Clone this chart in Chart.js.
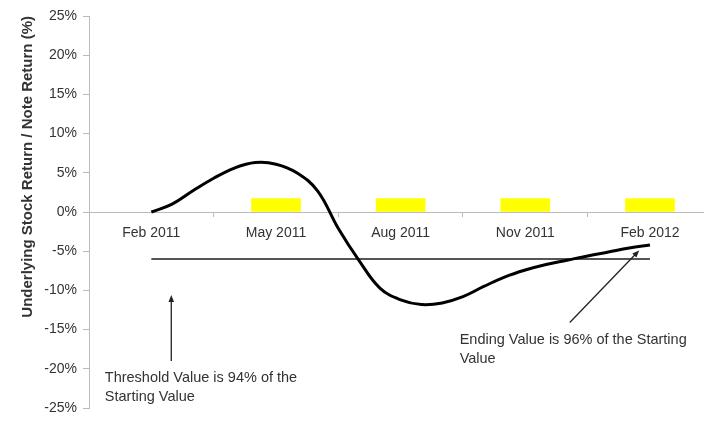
<!DOCTYPE html>
<html>
<head>
<meta charset="utf-8">
<script src="https://cdn.jsdelivr.net/npm/chart.js@4/dist/chart.umd.min.js"></script>
<style>
  html, body { margin: 0; padding: 0; background: #fff; }
  #wrap { width: 704px; height: 423px; }
</style>
</head>
<body>
<div id="wrap"><canvas id="chart"></canvas></div>
<script>
// Kategorier (kvartaler) og posisjon i måneder fra Feb 2011
const categories = ['Feb 2011', 'May 2011', 'Aug 2011', 'Nov 2011', 'Feb 2012'];
const categoryMonths = [0, 3, 6, 9, 12];

// Kupong-stolper (gule)
const couponMonths = [3, 6, 9, 12];
const couponValues = [1.7, 1.7, 1.7, 1.7];

// Aksjekurven (hver halve måned)
const curveMonths = [0, 0.5, 1, 1.5, 2, 2.5, 3, 3.5, 4, 4.5, 5, 5.5, 6, 6.5, 7, 7.5, 8, 8.5, 9, 9.5, 10, 10.5, 11, 11.5, 12];
const curveValues = [0, 1.0, 2.7, 4.3, 5.6, 6.3, 6.1, 5.0, 2.7, -2.1, -6.2, -9.7, -11.2, -11.8, -11.6, -10.8, -9.5, -8.3, -7.4, -6.7, -6.15, -5.6, -5.1, -4.6, -4.2];

// Terskel-linje
const thresholdMonths = [0, 12];
const thresholdValues = [-6, -6];

const yTicks = [-25, -20, -15, -10, -5, 0, 5, 10, 15, 20, 25];

// Tekstbokser med pil (dataverdier)
const notes = [
  { lines: ['Threshold Value is 94% of the', 'Starting Value'], x: -1.12, y: -21.2,
    arrowFrom: [0.48, -19.0], arrowTo: [0.48, -10.6] },
  { lines: ['Ending Value is 96% of the Starting', 'Value'], x: 7.42, y: -16.3,
    arrowFrom: [10.07, -14.1], arrowTo: [11.74, -4.9] }
];

const halfSlot = 1.5;
const boundaries = categoryMonths.map(m => m - halfSlot);

const toXY = (xs, ys) => xs.map((x, i) => ({ x, y: ys[i] }));

const notesPlugin = {
  id: 'notes',
  afterDatasetsDraw(chart) {
    const { ctx, scales: { x, y } } = chart;
    ctx.save();
    ctx.font = '14.5px "Liberation Sans", Arial, sans-serif';
    ctx.textBaseline = 'middle';
    ctx.textAlign = 'left';
    notes.forEach(n => {
      const px = x.getPixelForValue(n.x);
      const py = y.getPixelForValue(n.y);
      ctx.fillStyle = '#333';
      n.lines.forEach((t, i) => ctx.fillText(t, px, py + i * 19));
      const x1 = x.getPixelForValue(n.arrowFrom[0]), y1 = y.getPixelForValue(n.arrowFrom[1]);
      const x2 = x.getPixelForValue(n.arrowTo[0]), y2 = y.getPixelForValue(n.arrowTo[1]);
      const ang = Math.atan2(y2 - y1, x2 - x1);
      ctx.strokeStyle = '#222';
      ctx.fillStyle = '#222';
      ctx.lineWidth = 1.3;
      ctx.beginPath();
      ctx.moveTo(x1, y1);
      ctx.lineTo(x2 - 5 * Math.cos(ang), y2 - 5 * Math.sin(ang));
      ctx.stroke();
      ctx.beginPath();
      ctx.moveTo(x2, y2);
      ctx.lineTo(x2 - 7 * Math.cos(ang) + 2.8 * Math.sin(ang), y2 - 7 * Math.sin(ang) - 2.8 * Math.cos(ang));
      ctx.lineTo(x2 - 7 * Math.cos(ang) - 2.8 * Math.sin(ang), y2 - 7 * Math.sin(ang) + 2.8 * Math.cos(ang));
      ctx.closePath();
      ctx.fill();
    });
    ctx.restore();
  }
};

new Chart(document.getElementById('chart'), {
  type: 'line',
  data: {
    datasets: [
      {
        type: 'line',
        data: toXY(curveMonths, curveValues),
        borderColor: '#000',
        borderWidth: 3,
        tension: 0.4,
        pointRadius: 0,
        order: 1
      },
      {
        type: 'line',
        data: toXY(thresholdMonths, thresholdValues),
        borderColor: '#555',
        borderWidth: 2,
        pointRadius: 0,
        order: 2
      },
      {
        type: 'bar',
        data: toXY(couponMonths, couponValues),
        backgroundColor: '#ffff00',
        barThickness: 49,
        order: 3
      }
    ]
  },
  options: {
    responsive: true,
    maintainAspectRatio: false,
    animation: false,
    layout: { padding: { top: 16, bottom: 15, left: 0, right: 0 } },
    plugins: { legend: { display: false }, tooltip: { enabled: false } },
    scales: {
      x: {
        type: 'linear',
        min: -1.5,
        max: 13.3,
        offset: false,
        position: { y: 0 },
        afterBuildTicks: axis => {
          const vals = [...boundaries, ...categoryMonths].sort((a, b) => a - b);
          axis.ticks = vals.map(v => ({ value: v }));
        },
        grid: {
          drawOnChartArea: false,
          offset: false,
          tickLength: 4,
          tickColor: c => (c.tick && boundaries.includes(c.tick.value) ? '#bbb' : 'rgba(0,0,0,0)')
        },
        border: { color: '#bbb', width: 1 },
        ticks: {
          autoSkip: false,
          maxRotation: 0,
          padding: 9,
          color: '#333',
          font: { family: '"Liberation Sans", Arial, sans-serif', size: 14 },
          callback: v => {
            const i = categoryMonths.indexOf(v);
            return i >= 0 ? categories[i] : '';
          }
        }
      },
      y: {
        min: -25,
        max: 25,
        afterBuildTicks: axis => { axis.ticks = yTicks.map(v => ({ value: v })); },
        afterFit: axis => { axis.width = 89; },
        grid: { drawOnChartArea: false, tickLength: 6, tickColor: '#bbb' },
        border: { color: '#bbb', width: 1 },
        ticks: {
          padding: 6,
          color: '#333',
          font: { family: '"Liberation Sans", Arial, sans-serif', size: 14 },
          callback: v => v + '%'
        },
        title: {
          display: true,
          text: 'Underlying Stock Return / Note Return (%)',
          align: 'end',
          color: '#333',
          padding: { top: 19, bottom: 0 },
          font: { family: '"Liberation Sans", Arial, sans-serif', size: 15, weight: 'bold' }
        }
      }
    }
  },
  plugins: [notesPlugin]
});
</script>
</body>
</html>
